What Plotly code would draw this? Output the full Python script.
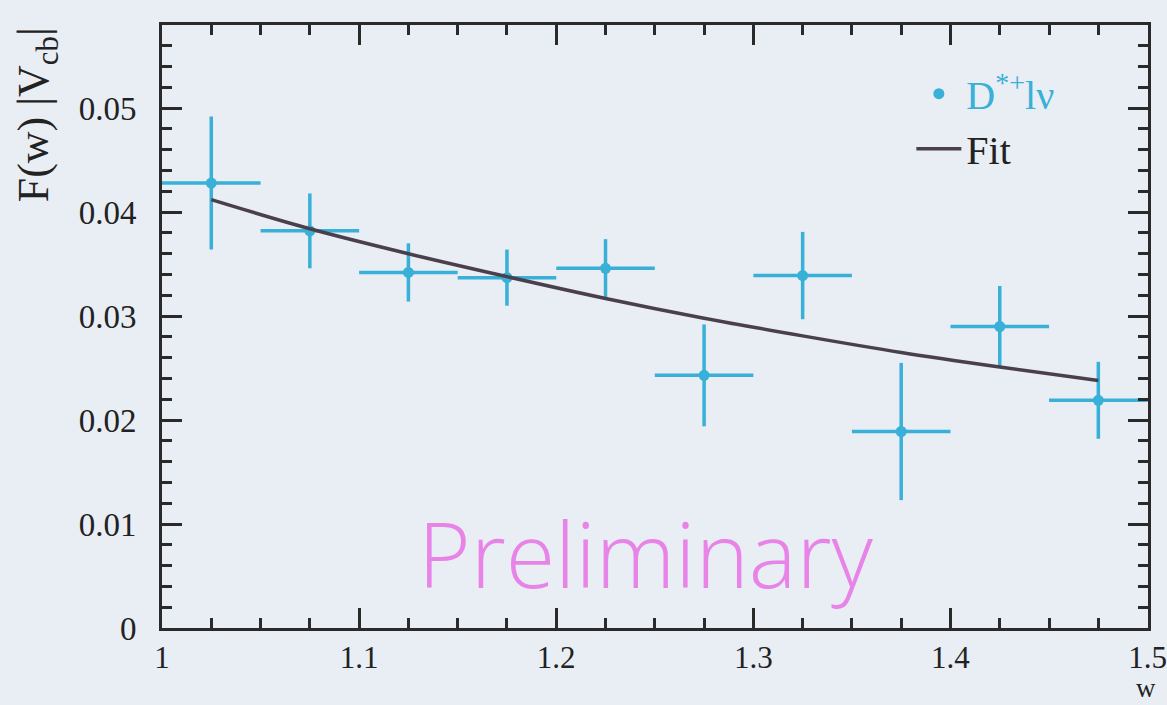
import plotly.graph_objects as go

# Data
w_centers = [1.025, 1.075, 1.125, 1.175, 1.225, 1.275, 1.325, 1.375, 1.425, 1.475]
w_halfwidth = [0.025] * 10
fvcb = [0.0428, 0.0382, 0.0342, 0.0337, 0.0346, 0.0243, 0.0339, 0.0189, 0.0290, 0.0219]
fvcb_err = [0.0064, 0.0036, 0.0028, 0.0027, 0.0028, 0.0049, 0.0042, 0.0066, 0.0039, 0.0037]

fit_w = [1.025, 1.075, 1.125, 1.175, 1.225, 1.275, 1.325, 1.375, 1.425, 1.475]
fit_y = [0.0412, 0.0384, 0.0360, 0.0338, 0.0317, 0.0298, 0.0281, 0.0265, 0.0251, 0.0238]

x_ticks = [1, 1.1, 1.2, 1.3, 1.4, 1.5]
x_labels = ["1", "1.1", "1.2", "1.3", "1.4", "1.5"]
y_ticks = [0, 0.01, 0.02, 0.03, 0.04, 0.05]
y_labels = ["0", "0.01", "0.02", "0.03", "0.04", "0.05"]

CYAN = "#38b0d8"
BG = "#e9edf4"
INK = "#2a2a2a"
SERIF = "Liberation Serif, Times New Roman, serif"

fig = go.Figure()

fig.add_trace(go.Scatter(
    x=w_centers, y=fvcb, mode="markers",
    name="<span style='color:%s'>D<sup>*+</sup>lν</span>" % CYAN,
    marker=dict(color=CYAN, size=11),
    error_x=dict(type="data", array=w_halfwidth, color=CYAN, thickness=3.5, width=0),
    error_y=dict(type="data", array=fvcb_err, color=CYAN, thickness=3.5, width=0),
))

fig.add_trace(go.Scatter(
    x=fit_w, y=fit_y, mode="lines", name="Fit",
    line=dict(color="#4a3f4c", width=3.5, shape="spline"),
))

fig.update_layout(
    width=1167, height=705,
    paper_bgcolor=BG, plot_bgcolor=BG,
    margin=dict(l=162, r=19, t=25, b=77, autoexpand=False),
    font=dict(family=SERIF, size=32, color="#222"),
    showlegend=True,
    legend=dict(x=0.76, y=0.94, xanchor="left", yanchor="top",
                bgcolor="rgba(0,0,0,0)", font=dict(family=SERIF, size=40, color="#222"),
                itemwidth=45, tracegroupgap=0),
)

axis_common = dict(
    showgrid=False, zeroline=False, showline=True, linecolor=INK, linewidth=3,
    mirror="ticks", ticks="inside", ticklen=20, tickwidth=2.5, tickcolor=INK,
    ticklabeloverflow="allow", automargin=False,
)
fig.update_xaxes(
    range=[1, 1.5002], tickmode="array", tickvals=x_ticks, ticktext=x_labels,
    ticklabelstandoff=0, tickfont=dict(family=SERIF, size=31, color="#222"),
    minor=dict(dtick=0.025, tick0=1, ticks="inside", ticklen=10, tickwidth=2.5, tickcolor=INK, showgrid=False),
    **axis_common,
)
fig.update_yaxes(
    range=[0, 0.058], tickmode="array", tickvals=y_ticks, ticktext=y_labels,
    ticklabelstandoff=16, tickfont=dict(family=SERIF, size=33, color="#222"),
    minor=dict(dtick=0.002, tick0=0, ticks="inside", ticklen=10, tickwidth=2.5, tickcolor=INK, showgrid=False),
    **axis_common,
)

# Axis titles (ROOT style, aligned to the axis end)
fig.add_annotation(
    text="F(w) |V<sub>cb</sub>|", xref="paper", yref="paper",
    x=-0.127, y=1.0, xanchor="center", yanchor="top", textangle=-90,
    showarrow=False, font=dict(family=SERIF, size=44, color="#222"),
)
fig.add_annotation(
    text="w", xref="paper", yref="paper",
    x=0.998, y=-0.1275, xanchor="center", yanchor="bottom",
    showarrow=False, font=dict(family=SERIF, size=27, color="#222"),
)

# Preliminary label
fig.add_annotation(
    text="Preliminary", xref="paper", yref="paper",
    x=0.49, y=0.125, xanchor="center", yanchor="middle",
    showarrow=False, font=dict(family="Open Sans, sans-serif", size=90, color="#e884e8", weight=300),
)

fig.write_html(
    "out.html",
    config={"displayModeBar": False},
    post_script="document.body.style.margin='0px';document.body.style.background='%s';" % BG,
)
